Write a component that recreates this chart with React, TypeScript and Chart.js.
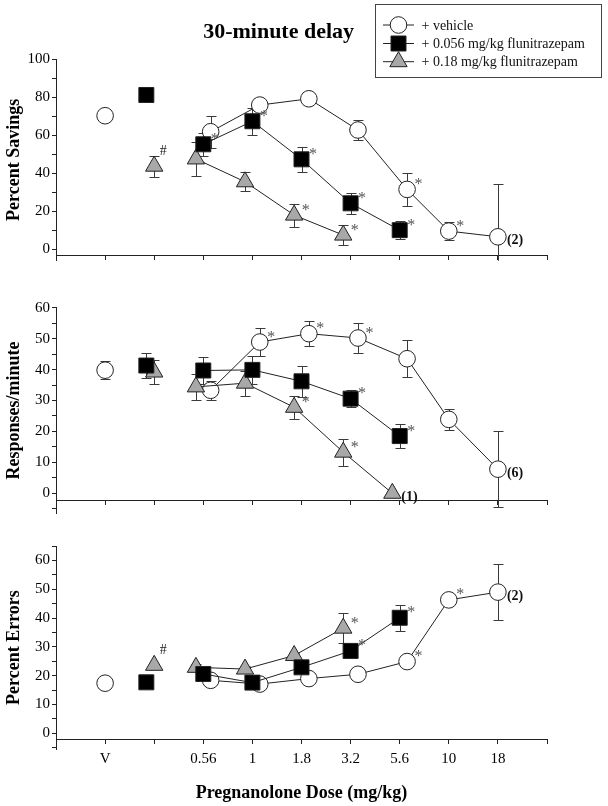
import React, { useEffect, useRef } from 'react';
import { Chart, registerables } from 'chart.js';

Chart.register(...registerables);

const FONT = "'Liberation Serif', 'Times New Roman', Times, serif";
Chart.defaults.font.family = FONT;
Chart.defaults.color = '#000';

// ---- x layout (slots): 1 = V, 2 = flunitrazepam alone, 3..9 = pregnanolone doses
const xTickSlots = [1, 2, 3, 4, 5, 6, 7, 8, 9, 10];
const xTickLabels = ['', 'V', '', '0.56', '1', '1.8', '3.2', '5.6', '10', '18', ''];
const vehicleSlot = 1;
const aloneSlot = 2;
const doseSlots = [3, 4, 5, 6, 7, 8, 9];

// ---- Panel 1: Percent Savings
const savingsVehicleControl = 70.2;
const savingsVehicle = [61.8, 75.8, 79.1, 62.7, 31.5, 9.6, 6.6];
const savingsVehicleErr = [8.4, 2, 2, 5, 8.6, 4.8, 28];
const savingsVehicleNotes = ['', '', '', '', '*', '*', '(2)'];
const savingsF056Alone = 81.1;
const savingsF056AloneErr = 0;
const savingsF056 = [55.2, 67.3, 47.3, 24.2, 10.1];
const savingsF056Err = [6, 7, 6.5, 5.5, 4.8];
const savingsF056Notes = ['*', '*', '*', '*', '*'];
const savingsF018Alone = 43.7;
const savingsF018AloneErr = 5.5;
const savingsF018AloneNote = '#';
const savingsF018 = [47.5, 35.5, 18, 7.5];
const savingsF018Err = [9, 5, 6, 5.3];
const savingsF018Notes = ['', '', '*', '*'];

// ---- Panel 2: Responses/minute
const rateVehicleControl = 39.8;
const rateVehicleControlErr = 3;
const rateVehicle = [33.3, 48.9, 51.6, 50.2, 43.5, 23.9, 7.8];
const rateVehicleErr = [3, 4.5, 4, 5, 6, 3.4, 12.3];
const rateVehicleNotes = ['', '*', '*', '*', '', '', '(6)'];
const rateF056Alone = 41.3;
const rateF056AloneErr = 4;
const rateF056 = [39.7, 39.9, 36.2, 30.6, 18.5];
const rateF056Err = [4.5, 4.5, 5, 2.8, 4];
const rateF056Notes = ['', '', '', '*', '*'];
const rateF018Alone = 39.2;
const rateF018AloneErr = 4;
const rateF018 = [34.4, 35.6, 27.8, 13.3, 0];
const rateF018Err = [4.3, 4, 3.8, 4.4, 0];
const rateF018Notes = ['', '', '*', '*', '(1)'];

// ---- Panel 3: Percent Errors
const errorsVehicleControl = 17.4;
const errorsVehicle = [18.4, 17.1, 19, 20.5, 24.9, 46.3, 49];
const errorsVehicleErr = [1, 1, 1, 1, 1, 1.5, 9.6];
const errorsVehicleNotes = ['', '', '', '', '*', '*', '(2)'];
const errorsF056Alone = 17.7;
const errorsF056 = [20.6, 17.6, 22.9, 28.6, 40.1];
const errorsF056Err = [1, 1, 1, 1.5, 4.5];
const errorsF056Notes = ['', '', '', '*', '*'];
const errorsF018Alone = 23.6;
const errorsF018AloneNote = '#';
const errorsF018 = [22.9, 22.3, 27, 36.5];
const errorsF018Err = [1, 1, 1, 5.3];
const errorsF018Notes = ['', '', '', '*'];

// ---- legend entries / titles
const legendLabels = ['+ vehicle', '+ 0.056 mg/kg flunitrazepam', '+ 0.18 mg/kg flunitrazepam'];
const chartTitle = '30-minute delay';
const xTitle = 'Pregnanolone Dose (mg/kg)';

const SHIFT = 0.15;
const LINE = '#222';
const TRI_FILL = '#a8a8a8';

type PanelData = {
  vehCtrl: number; vehCtrlErr: number; veh: number[]; vehErr: number[]; vehNotes: string[];
  f056Alone: number; f056AloneErr: number; f056: number[]; f056Err: number[]; f056Notes: string[];
  f018Alone: number; f018AloneErr: number; f018AloneNote: string; f018: number[]; f018Err: number[]; f018Notes: string[];
};

function pts(xs: number[], ys: number[]) {
  return ys.map((y, i) => ({ x: xs[i], y }));
}

function buildDatasets(p: PanelData): any[] {
  const overlapCount = p.f056.length;
  const vehX = doseSlots.map((s, i) => s + (i < overlapCount ? SHIFT : 0));
  const triX = doseSlots.map((s) => s - SHIFT);
  const base = { borderColor: LINE, borderWidth: 1, pointBorderColor: LINE, pointBorderWidth: 1, tension: 0, fill: false };
  const sq = { ...base, pointStyle: 'rect', pointRadius: 10.6, pointBackgroundColor: '#000' };
  const tri = { ...base, pointStyle: 'triangle', pointRadius: 10, pointBackgroundColor: TRI_FILL };
  const circ = { ...base, pointStyle: 'circle', pointRadius: 8.3, pointBackgroundColor: '#fff' };
  return [
    { ...sq, data: pts(doseSlots, p.f056), errors: p.f056Err, notes: p.f056Notes, showLine: true },
    { ...sq, data: [{ x: aloneSlot - 0.16, y: p.f056Alone }], errors: [p.f056AloneErr], notes: [''], showLine: false },
    { ...tri, data: pts(triX, p.f018), errors: p.f018Err, notes: p.f018Notes, showLine: true },
    { ...tri, data: [{ x: aloneSlot, y: p.f018Alone }], errors: [p.f018AloneErr], notes: [p.f018AloneNote], showLine: false },
    { ...circ, data: pts(vehX, p.veh), errors: p.vehErr, notes: p.vehNotes, showLine: true },
    { ...circ, data: [{ x: vehicleSlot, y: p.vehCtrl }], errors: [p.vehCtrlErr], notes: [''], showLine: false },
  ];
}

const errorBarPlugin = {
  id: 'errorBars',
  beforeDatasetsDraw(chart: any) {
    const { ctx, chartArea } = chart;
    const y = chart.scales.y;
    ctx.save();
    ctx.beginPath();
    ctx.rect(chartArea.left, chartArea.top, chartArea.right - chartArea.left, chartArea.bottom - chartArea.top);
    ctx.clip();
    ctx.strokeStyle = '#3a3a3a';
    ctx.lineWidth = 1;
    chart.data.datasets.forEach((ds: any, di: number) => {
      const errs = ds.errors;
      if (!errs) return;
      const meta = chart.getDatasetMeta(di);
      meta.data.forEach((pt: any, i: number) => {
        const e = errs[i];
        if (!e) return;
        const v = ds.data[i].y;
        const yTop = Math.round(y.getPixelForValue(v + e)) + 0.5;
        const yBot = Math.round(y.getPixelForValue(v - e)) + 0.5;
        const x = Math.round(pt.x) + 0.5;
        ctx.beginPath();
        ctx.moveTo(x, yTop); ctx.lineTo(x, yBot);
        ctx.moveTo(x - 5, yTop); ctx.lineTo(x + 5, yTop);
        ctx.moveTo(x - 5, yBot); ctx.lineTo(x + 5, yBot);
        ctx.stroke();
      });
    });
    ctx.restore();
  },
};

const notesPlugin = {
  id: 'notes',
  afterDatasetsDraw(chart: any) {
    const { ctx } = chart;
    ctx.save();
    chart.data.datasets.forEach((ds: any, di: number) => {
      const notes = ds.notes;
      if (!notes) return;
      const meta = chart.getDatasetMeta(di);
      meta.data.forEach((pt: any, i: number) => {
        const n = notes[i];
        if (!n) return;
        if (n === '*') {
          ctx.font = `16px ${FONT}`;
          ctx.fillStyle = '#555';
          ctx.textAlign = 'center';
          ctx.textBaseline = 'alphabetic';
          ctx.fillText(n, pt.x + 11.5, pt.y - 0.5);
        } else if (n === '#') {
          ctx.font = `14px ${FONT}`;
          ctx.fillStyle = '#222';
          ctx.textAlign = 'center';
          ctx.textBaseline = 'alphabetic';
          ctx.fillText(n, pt.x + 9, pt.y - 11);
        } else {
          ctx.font = `bold 14px ${FONT}`;
          ctx.fillStyle = '#111';
          ctx.textAlign = 'left';
          ctx.textBaseline = 'middle';
          ctx.fillText(n, pt.x + 9, pt.y + 4);
        }
      });
    });
    ctx.restore();
  },
};

function drawMarker(ctx: CanvasRenderingContext2D, kind: string, x: number, y: number) {
  ctx.beginPath();
  if (kind === 'circle') {
    ctx.arc(x, y, 8.3, 0, Math.PI * 2);
    ctx.fillStyle = '#fff';
  } else if (kind === 'rect') {
    const h = 10.6 * Math.SQRT1_2;
    ctx.rect(x - h, y - h, 2 * h, 2 * h);
    ctx.fillStyle = '#000';
  } else {
    const r = 10;
    ctx.moveTo(x, y - r);
    ctx.lineTo(x + 0.866 * r, y + 0.5 * r);
    ctx.lineTo(x - 0.866 * r, y + 0.5 * r);
    ctx.closePath();
    ctx.fillStyle = TRI_FILL;
  }
  ctx.fill();
  ctx.strokeStyle = LINE;
  ctx.lineWidth = 1;
  ctx.stroke();
}

const headerPlugin = {
  id: 'header',
  afterDraw(chart: any) {
    const { ctx } = chart;
    ctx.save();
    ctx.font = `bold 22px ${FONT}`;
    ctx.fillStyle = '#000';
    ctx.textAlign = 'center';
    ctx.textBaseline = 'alphabetic';
    ctx.fillText(chartTitle, 278.6, 37.5);

    ctx.strokeStyle = '#444';
    ctx.lineWidth = 1;
    ctx.strokeRect(375.5, 4.5, 226, 73);
    const kinds = ['circle', 'rect', 'triangle'];
    const ys = [25, 43.5, 61.7];
    kinds.forEach((k, i) => {
      const y = ys[i];
      ctx.beginPath();
      ctx.moveTo(383, y);
      ctx.lineTo(414, y);
      ctx.strokeStyle = LINE;
      ctx.stroke();
      drawMarker(ctx, k, 398.5, y);
      ctx.font = `14px ${FONT}`;
      ctx.fillStyle = '#111';
      ctx.textAlign = 'left';
      ctx.textBaseline = 'middle';
      ctx.fillText(legendLabels[i], 421.5, y + 1);
    });
    ctx.restore();
  },
};

type PanelCfg = {
  top: number; height: number; padTop: number; padBottom: number;
  yMin: number; yMax: number; yTicks: number[]; labelStep: number; labelMax: number;
  xAxisAt: number; yTitle: string; showX: boolean; data: PanelData; header?: boolean;
};

function range(a: number, b: number, s: number) {
  const out: number[] = [];
  for (let v = a; v <= b + 1e-9; v += s) out.push(v);
  return out;
}

function Panel({ cfg }: { cfg: PanelCfg }) {
  const ref = useRef<HTMLCanvasElement | null>(null);
  useEffect(() => {
    if (!ref.current) return;
    const plugins: any[] = [errorBarPlugin, notesPlugin];
    if (cfg.header) plugins.push(headerPlugin);
    const chart = new Chart(ref.current, {
      type: 'line',
      data: { datasets: buildDatasets(cfg.data) },
      plugins,
      options: {
        responsive: false,
        maintainAspectRatio: false,
        animation: false,
        events: [],
        layout: { padding: { top: cfg.padTop, bottom: cfg.padBottom, left: 0, right: 61 } },
        plugins: { legend: { display: false }, tooltip: { enabled: false }, title: { display: false } },
        scales: {
          x: {
            type: 'linear',
            min: 0,
            max: 10,
            position: { y: cfg.xAxisAt } as any,
            afterBuildTicks: (s: any) => { s.ticks = xTickSlots.map((v) => ({ value: v })); },
            ticks: {
              display: cfg.showX,
              autoSkip: false,
              maxRotation: 0,
              padding: 7,
              color: '#000',
              font: { size: 15 },
              callback: (v: any) => xTickLabels[Math.round(Number(v))] ?? '',
            },
            grid: { drawOnChartArea: false, drawTicks: true, tickLength: 4, color: LINE },
            border: { display: true, color: LINE, width: 1 },
            title: cfg.showX
              ? { display: true, text: xTitle, color: '#000', font: { size: 18, weight: 'bold' }, padding: { top: 7, bottom: 4 } }
              : { display: false },
          },
          y: {
            type: 'linear',
            min: cfg.yMin,
            max: cfg.yMax,
            afterBuildTicks: (s: any) => { s.ticks = cfg.yTicks.map((v) => ({ value: v })); },
            afterFit: (s: any) => { s.width = 56; },
            ticks: {
              autoSkip: false,
              padding: 2,
              color: '#000',
              font: { size: 15 },
              callback: (v: any) => {
                const n = Number(v);
                return n >= 0 && n <= cfg.labelMax && Math.abs(n % cfg.labelStep) < 1e-6 ? String(n) : '';
              },
            },
            grid: { drawOnChartArea: false, drawTicks: true, tickLength: 4, color: LINE },
            border: { display: true, color: LINE, width: 1 },
            title: { display: true, text: cfg.yTitle, color: '#000', font: { size: 18, weight: 'bold' }, padding: { top: 4, bottom: 4 } },
          },
        },
      } as any,
    });
    return () => chart.destroy();
  }, [cfg]);
  return (
    <canvas
      ref={ref}
      width={608}
      height={cfg.height}
      style={{ position: 'absolute', left: 0, top: cfg.top, width: 608, height: cfg.height, display: 'block' }}
    />
  );
}

const panels: PanelCfg[] = [
  {
    top: 0, height: 280, padTop: 59, padBottom: 19.2,
    yMin: -6, yMax: 100, yTicks: range(0, 100, 10), labelStep: 20, labelMax: 100,
    xAxisAt: -3, yTitle: 'Percent Savings', showX: false, header: true,
    data: {
      vehCtrl: savingsVehicleControl, vehCtrlErr: 0, veh: savingsVehicle, vehErr: savingsVehicleErr, vehNotes: savingsVehicleNotes,
      f056Alone: savingsF056Alone, f056AloneErr: savingsF056AloneErr, f056: savingsF056, f056Err: savingsF056Err, f056Notes: savingsF056Notes,
      f018Alone: savingsF018Alone, f018AloneErr: savingsF018AloneErr, f018AloneNote: savingsF018AloneNote, f018: savingsF018, f018Err: savingsF018Err, f018Notes: savingsF018Notes,
    },
  },
  {
    top: 280, height: 250, padTop: 27.7, padBottom: 16.6,
    yMin: -6.5, yMax: 60, yTicks: range(-5, 60, 5), labelStep: 10, labelMax: 60,
    xAxisAt: -2.3, yTitle: 'Responses/minute', showX: false,
    data: {
      vehCtrl: rateVehicleControl, vehCtrlErr: rateVehicleControlErr, veh: rateVehicle, vehErr: rateVehicleErr, vehNotes: rateVehicleNotes,
      f056Alone: rateF056Alone, f056AloneErr: rateF056AloneErr, f056: rateF056, f056Err: rateF056Err, f056Notes: rateF056Notes,
      f018Alone: rateF018Alone, f018AloneErr: rateF018AloneErr, f018AloneNote: '', f018: rateF018, f018Err: rateF018Err, f018Notes: rateF018Notes,
    },
  },
  {
    top: 530, height: 276, padTop: 16, padBottom: 56.8,
    yMin: -5.5, yMax: 65, yTicks: range(-5, 65, 5), labelStep: 10, labelMax: 60,
    xAxisAt: -2.1, yTitle: 'Percent Errors', showX: true,
    data: {
      vehCtrl: errorsVehicleControl, vehCtrlErr: 0, veh: errorsVehicle, vehErr: errorsVehicleErr, vehNotes: errorsVehicleNotes,
      f056Alone: errorsF056Alone, f056AloneErr: 0, f056: errorsF056, f056Err: errorsF056Err, f056Notes: errorsF056Notes,
      f018Alone: errorsF018Alone, f018AloneErr: 0, f018AloneNote: errorsF018AloneNote, f018: errorsF018, f018Err: errorsF018Err, f018Notes: errorsF018Notes,
    },
  },
];

export default function App() {
  return (
    <div style={{ position: 'absolute', left: 0, top: 0, width: 608, height: 806, background: '#fff' }}>
      {panels.map((p, i) => (
        <Panel key={i} cfg={p} />
      ))}
    </div>
  );
}
